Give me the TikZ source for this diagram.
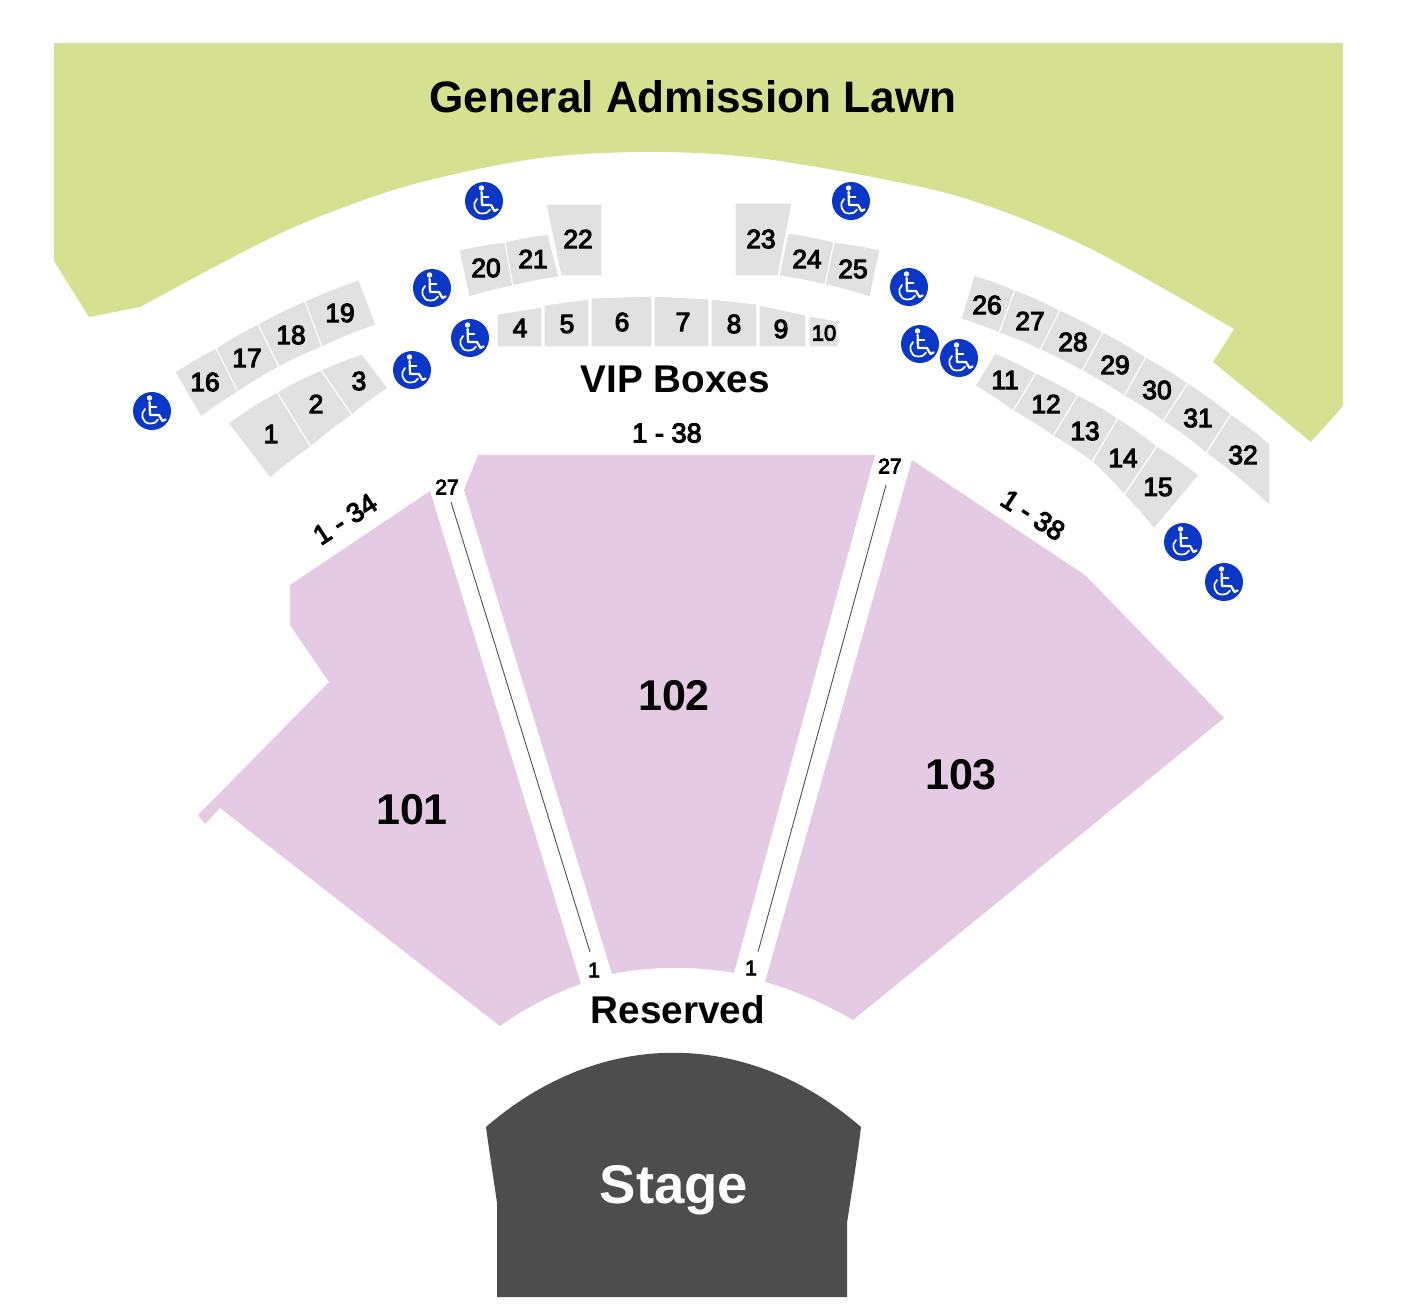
\documentclass[tikz,border=0pt]{standalone}
\usepackage{fontspec}
\setmainfont{Liberation Sans}
\newfontfamily\seatfont[FakeBold=4]{Liberation Sans}
\usepackage{tikz}
\definecolor{lawngreen}{HTML}{D5E190}
\definecolor{sectionpink}{HTML}{E4CBE3}
\definecolor{seatgrey}{HTML}{E1E1E1}
\definecolor{stagegrey}{HTML}{4D4D4D}
\definecolor{accessblue}{HTML}{0A37C8}
\tikzset{
  seatfill/.style={fill=seatgrey,draw=white,line width=0.6pt},
  seatlabel/.style={inner sep=0pt,font=\fontsize{15}{15}\selectfont\seatfont},
  rangelabel/.style={inner sep=0pt,font=\fontsize{15.5}{15.5}\selectfont\seatfont},
  rowlabel/.style={inner sep=0pt,font=\fontsize{12}{12}\selectfont\seatfont},
  biglabel/.style={inner sep=0pt,font=\fontsize{#1}{#1}\selectfont\bfseries},
  pics/access/.style={code={
    \fill[accessblue] (0,0) circle[radius=19];
    \fill[white] (-2.5,-13) circle[radius=2.7];
    \draw[white,line width=1.3pt,line cap=round,line join=round]
      (-2.4,-9) -- (-2,4) -- (7,4) -- (10.5,10) -- (13.5,8.5);
    \draw[white,line width=1pt,line cap=round] (-2.4,-4) -- (4.5,-4);
    \draw[white,line width=1pt,line cap=round]
      (-7,-2) .. controls (-12,2) and (-10,12.5) .. (-2,12.5)
      .. controls (2,12.5) and (5,11) .. (6,8.5);
  }}
}
% curved block: label, four corners, label position
\newcommand{\seatbox}[6]{%
  \path[seatfill] (#2) to[bend left=3] (#3) -- (#4) to[bend right=3] (#5) -- cycle;
  \node[seatlabel] (seat#1) at (#6) {#1};
}
% straight block
\newcommand{\flatbox}[6]{%
  \path[seatfill] (#2) -- (#3) -- (#4) -- (#5) -- cycle;
  \node[seatlabel] (seat#1) at (#6) {#1};
}
\begin{document}
\begin{tikzpicture}[x=0.02cm,y=-0.02cm]
  \useasboundingbox (0,0) rectangle (1416,1306);
  % lawn
  \fill[lawngreen] (54,43) -- (1343,43) -- (1343,406) -- (1311,442) -- (1213,362)
    -- plot[smooth] coordinates {(1234,329) (1083,245) (950,194) (773,160) (660,152) (540,158)
      (407,186) (283,232) (140,307)}
    -- (89,317) -- (54,261) -- cycle;
  \node[biglabel=25.1] (lawn) at (693,97) {General Admission Lawn};
  % left blocks
  \seatbox{16}{175,372}{216,348}{238,392}{201,417}{205,382}
  \seatbox{17}{216,348}{258,324}{279,367}{238,392}{247,358}
  \seatbox{18}{258,324}{305,301}{322,347}{279,367}{291,335}
  \seatbox{19}{305,301}{359,280}{376,325}{322,347}{340,313}
  \seatbox{1}{228,423}{277,392}{311,447}{270,478}{271,434}
  \seatbox{2}{277,392}{321,370}{352,415}{311,447}{316,404}
  \seatbox{3}{321,370}{362,354}{388,388}{352,415}{359,381}
  \seatbox{20}{459,250}{505,242}{513,286}{469,297}{486,268}
  \seatbox{21}{505,242}{548,234}{559,277}{513,286}{533,259}
  \flatbox{22}{546,204}{602,204}{602,276}{561,276}{578,239}
  % middle row
  \flatbox{4}{497,314}{542,307}{542,347}{497,347}{520,328}
  \flatbox{5}{544,305}{589,299}{589,347}{544,347}{567,324}
  \flatbox{6}{591,298}{652,296}{652,347}{591,347}{622,322}
  \flatbox{7}{654,296}{709,299}{709,347}{654,347}{683,322}
  \flatbox{8}{711,299}{757,304}{757,347}{711,347}{734,324}
  \flatbox{9}{759,305}{806,315}{806,347}{759,347}{781,329}
  \path[seatfill] (809,316) -- (838,321) -- (838,347) -- (809,347) -- cycle;
  \node[rowlabel,font=\fontsize{12.5}{12.5}\selectfont\seatfont] (seat10) at (824,333) {10};
  % right blocks
  \flatbox{23}{735,203}{792,203}{778,276}{735,276}{761,239}
  \seatbox{24}{788,233}{834,242}{825,285}{779,276}{807,259}
  \seatbox{25}{834,242}{880,250}{870,297}{825,285}{853,269}
  \seatbox{26}{974,275}{1015,290}{999,333}{961,319}{987,305}
  \seatbox{27}{1015,290}{1060,310}{1040,350}{999,333}{1030,321}
  \seatbox{28}{1060,310}{1103,332}{1082,371}{1040,350}{1073,342}
  \seatbox{29}{1103,332}{1146,357}{1124,396}{1082,371}{1115,365}
  \seatbox{30}{1146,357}{1188,383}{1163,421}{1124,396}{1157,390}
  \seatbox{31}{1188,383}{1231,414}{1206,453}{1163,421}{1198,418}
  \seatbox{32}{1231,414}{1270,444}{1270,506}{1206,453}{1243,455}
  \seatbox{11}{995,353}{1036,373}{1013,411}{975,386}{1005,380}
  \seatbox{12}{1036,373}{1078,395}{1053,436}{1013,411}{1046,404}
  \seatbox{13}{1078,395}{1118,418}{1092,462}{1053,436}{1085,431}
  \seatbox{14}{1118,418}{1157,446}{1124,495}{1092,462}{1123,458}
  \seatbox{15}{1157,446}{1199,475}{1154,529}{1124,495}{1158,487}
  \node[biglabel=22] (vip) at (675,379) {VIP Boxes};
  % access points
  \pic at (484,201) {access};
  \pic at (851,201) {access};
  \pic at (432,288) {access};
  \pic at (909,287) {access};
  \pic at (470,338) {access};
  \pic at (412,370) {access};
  \pic at (152,411) {access};
  \pic at (920,344) {access};
  \pic at (959,358) {access};
  \pic at (1183,542) {access};
  \pic at (1224,582) {access};
  % sections
  \fill[sectionpink] (430,491) -- (290,585) -- (290,625) -- (329,682) -- (198,815) -- (205,824)
    -- (220,808) -- (500,1026) .. controls (525,1008) and (552,994) .. (581,984) -- cycle;
  \fill[sectionpink] (478,455) -- (875,455) -- (734,973) .. controls (696,966) and (650,966) .. (612,974)
    -- (464,490) -- cycle;
  \fill[sectionpink] (912,460) -- (1085,575) -- (1224,718) -- (853,1020)
    .. controls (825,1004) and (795,990) .. (765,982) -- cycle;
  \node[biglabel=24.5] (sec101) at (412,810) {101};
  \node[biglabel=24.5] (sec102) at (674,696) {102};
  \node[biglabel=24.5] (sec103) at (961,775) {103};
  % aisles
  \node[rowlabel] (rowtl) at (447,487) {27};
  \node[rowlabel] (rowtr) at (890,466) {27};
  \node[rowlabel] (rowbl) at (594,970) {1};
  \node[rowlabel] (rowbr) at (751,968) {1};
  \draw[black!70,line width=0.5pt] (rowtl) ++(4,15) -- (590,952);
  \draw[black!70,line width=0.5pt] (rowtr) ++(-4,19) -- (758,952);
  \node[rangelabel] (range102) at (667,433) {1 - 38};
  \node[rangelabel,rotate=33] (range101) at (345,519) {1 - 34};
  \node[rangelabel,rotate=-33] (range103) at (1033,515) {1 - 38};
  % front
  \node[biglabel=22] (reserved) at (678,1010) {Reserved};
  \fill[stagegrey] (486,1127) .. controls (600,1028) and (747,1028) .. (861,1127)
    .. controls (857,1160) and (852,1190) .. (847,1223) -- (847,1297) -- (497,1297) -- (497,1203)
    .. controls (493,1175) and (489,1150) .. (486,1127) -- cycle;
  \node[biglabel=31,text=white] (stage) at (674,1190) {Stage};
\end{tikzpicture}
\end{document}
